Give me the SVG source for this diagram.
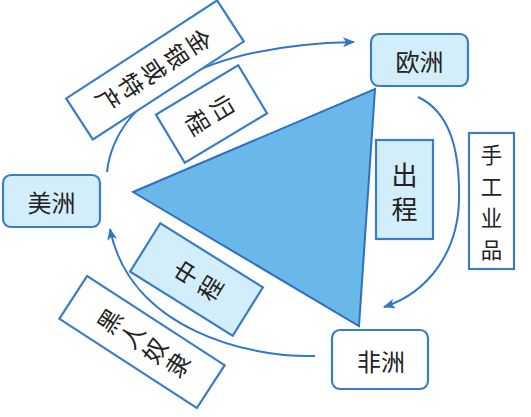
<svg xmlns="http://www.w3.org/2000/svg" width="531" height="417" viewBox="0 0 531 417">
<style>
.box{stroke:#3a7cc6;stroke-width:2.2}
.lt{fill:#d2eefa}
.wt{fill:#ffffff}
.t{font-family:"Noto Sans CJK SC","Noto Sans CJK JP",sans-serif;font-size:24px;fill:#222;text-anchor:middle;dominant-baseline:central}
.s{font-size:21.5px}
.c{fill:none;stroke:#2f78c8;stroke-width:2}
</style>
<defs>
<marker id="ah" viewBox="0 0 12 10" refX="11" refY="5" markerWidth="12" markerHeight="10" markerUnits="userSpaceOnUse" orient="auto">
<path d="M0,0 L12,5 L0,10 L3,5 Z" fill="#2f78c8"/>
</marker>
</defs>
<rect width="531" height="417" fill="#ffffff"/>
<g id="triangle">
<polygon points="133,192 375,89 359,326" fill="#6ab8ea" stroke="#2f6fc0" stroke-width="2"/>
</g>
<g id="connectors">
<path class="c" d="M107,172 C115,100 200,45 354,42" marker-end="url(#ah)"/>
<path class="c" d="M418,97 C450,112 460,150 459,200 C458,250 430,292 384,307" marker-end="url(#ah)"/>
<path class="c" d="M315,356 C250,358 130,330 110,229" marker-end="url(#ah)"/>
</g>
<g id="europe">
<rect class="box lt" x="371" y="34" width="97" height="52" rx="8"/>
<text class="t" x="419.5" y="60">欧洲</text>
</g>
<g id="america">
<rect class="box lt" x="3" y="175" width="97" height="52" rx="8"/>
<text class="t" x="51.5" y="201">美洲</text>
</g>
<g id="africa">
<rect class="box wt" x="332" y="330" width="96" height="59" rx="8"/>
<text class="t" x="381" y="360">非洲</text>
</g>
<g id="outbound">
<rect class="box lt" x="376" y="140" width="57" height="99"/>
<text class="t" x="404.5" y="173" style="font-size:26px">出</text>
<text class="t" x="404.5" y="207" style="font-size:26px">程</text>
</g>
<g id="manufactures">
<rect class="box wt" x="469" y="133" width="45" height="136"/>
<text class="t s" x="491.5" y="153.75">手</text>
<text class="t s" x="491.5" y="185.25">工</text>
<text class="t s" x="491.5" y="216.75">业</text>
<text class="t s" x="491.5" y="248.25">品</text>
</g>
<g id="gold" transform="translate(155,70) rotate(57)">
<rect class="box wt" x="-24.5" y="-90" width="49" height="180"/>
<text class="t" x="0" y="-54">金</text>
<text class="t" x="0" y="-27">银</text>
<text class="t" x="0" y="0">或</text>
<text class="t" x="0" y="27">特</text>
<text class="t" x="0" y="54">产</text>
</g>
<g id="return" transform="translate(211.5,114) rotate(59)">
<rect class="box wt" x="-28" y="-48" width="56" height="96"/>
<text class="t" x="0" y="-14">归</text>
<text class="t" x="0" y="15">程</text>
</g>
<g id="middle" transform="translate(196.5,279.5) rotate(-58)">
<rect class="box lt" x="-28.5" y="-60.5" width="57" height="121"/>
<text class="t" x="0" y="-14">中</text>
<text class="t" x="0" y="15">程</text>
</g>
<g id="slaves" transform="translate(142,342) rotate(-57)">
<rect class="box wt" x="-25.5" y="-82" width="51" height="164"/>
<text class="t" x="0" y="-40">黑</text>
<text class="t" x="0" y="-13">人</text>
<text class="t" x="0" y="14">奴</text>
<text class="t" x="0" y="41">隶</text>
</g>
</svg>
